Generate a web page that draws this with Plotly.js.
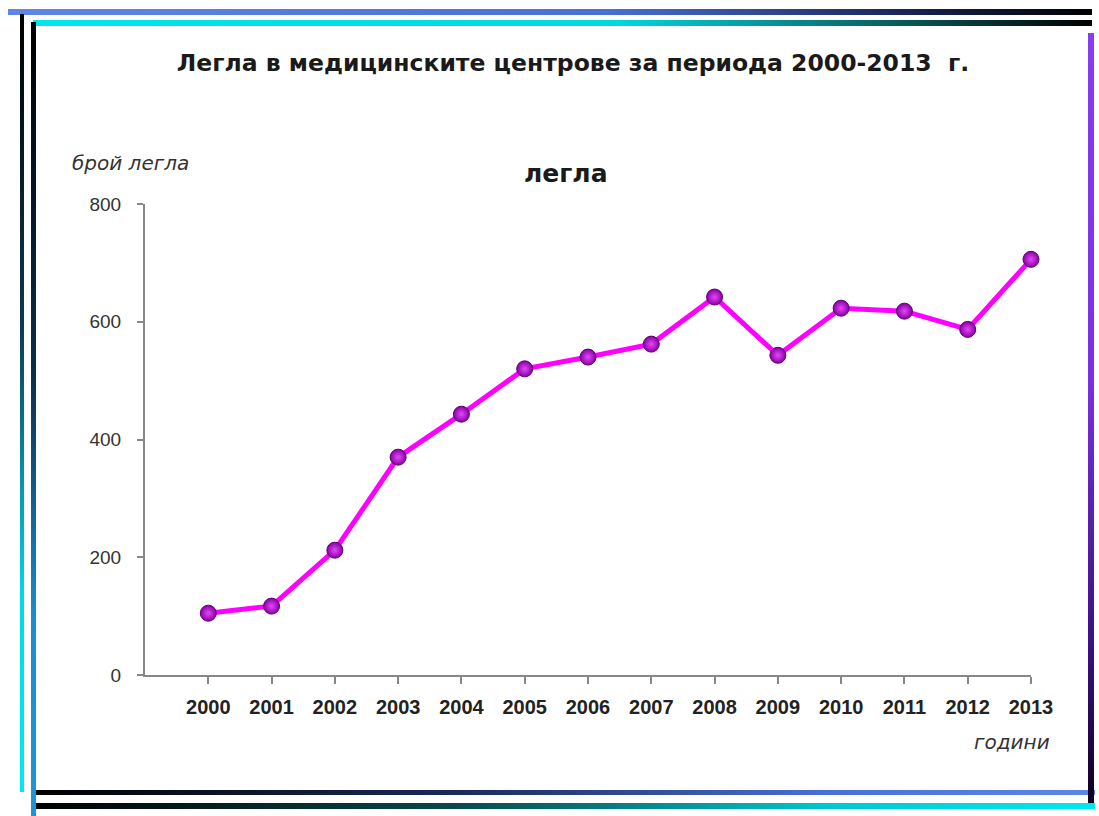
<!DOCTYPE html>
<html>
<head>
<meta charset="utf-8">
<script src="https://cdn.plot.ly/plotly-3.0.1.min.js"></script>
<style>
  html, body { margin: 0; padding: 0; background: #ffffff; }
  #wrap { position: relative; width: 1099px; height: 816px; overflow: hidden; }
  #chart { position: absolute; left: 0; top: 0; width: 1099px; height: 816px; }
  .bar { position: absolute; pointer-events: none; }
</style>
</head>
<body>
<div id="wrap">
  <div id="chart"></div>
  <div class="bar" style="left:8px; top:9px; width:1084px; height:6px; background:linear-gradient(to right,#5f86e6 0%,#4a6fd8 55%,#15204a 85%,#000 100%);"></div>
  <div class="bar" style="left:33px; top:20px; width:1059px; height:6px; background:linear-gradient(to right,#00e5ee 0%,#00d8e0 55%,#0a5a5a 82%,#000 100%);"></div>
  <div class="bar" style="left:20px; top:14px; width:4px; height:778px; background:linear-gradient(to bottom,#000 0%,#0a3a50 40%,#00d8f0 75%,#00e8f8 100%);"></div>
  <div class="bar" style="left:31px; top:22px; width:5px; height:794px; background:linear-gradient(to bottom,#000 0%,#0a3050 45%,#1a8ed0 75%,#1a96d8 100%);"></div>
  <div class="bar" style="left:36px; top:790px; width:1059px; height:5px; background:linear-gradient(to right,#000 0%,#1a2a5a 40%,#4a70d8 75%,#5f86e6 100%);"></div>
  <div class="bar" style="left:36px; top:803px; width:1059px; height:6px; background:linear-gradient(to right,#000 0%,#0a4a4a 40%,#00c8d0 75%,#00e8f0 100%);"></div>
  <div class="bar" style="left:1088px; top:33px; width:6px; height:770px; background:linear-gradient(to bottom,#8a3cf0 0%,#7a30e0 45%,#3a1080 80%,#100020 100%);"></div>
</div>
<script>
const years = ["2000","2001","2002","2003","2004","2005","2006","2007","2008","2009","2010","2011","2012","2013"];
const beds = [105, 117, 212, 370, 443, 520, 540, 562, 642, 543, 623, 618, 587, 706];
const yTicks = [0, 200, 400, 600, 800];

const chartTitle = "Легла в медицинските центрове за периода 2000-2013  г.";
const seriesName = "легла";
const yTitle = "брой легла";
const xTitle = "години";

const trace = {
  x: years,
  y: beds,
  type: "scatter",
  mode: "lines+markers",
  name: seriesName,
  line: { color: "#ff00ff", width: 5 },
  marker: {
    size: 16,
    color: "#8a00a8",
    line: { color: "#5a0070", width: 1 },
    gradient: { type: "radial", color: "#e448f4" }
  },
  cliponaxis: false,
  hoverinfo: "x+y"
};

const PW = 886, PH = 471;

const layout = {
  width: 1099,
  height: 816,
  paper_bgcolor: "rgba(0,0,0,0)",
  plot_bgcolor: "rgba(0,0,0,0)",
  showlegend: false,
  margin: { l: 145, r: 68, t: 204, b: 141, pad: 0 },
  font: { family: "Liberation Sans, Arial, sans-serif", color: "#222" },
  title: {
    text: chartTitle,
    font: { family: "DejaVu Sans, sans-serif", size: 23.5, color: "#1a1a1a", weight: "bold" },
    x: 573 / 1099, xanchor: "center", xref: "container",
    y: 1 - 63 / 816, yref: "container", yanchor: "middle"
  },
  xaxis: {
    type: "category",
    range: [-1, 13],
    showline: true, linecolor: "#888", linewidth: 2,
    showgrid: false, zeroline: false,
    ticks: "outside", ticklen: 7, tickcolor: "#888", tickwidth: 2,
    tickfont: { family: "Liberation Sans, Arial, sans-serif", size: 20, color: "#222", weight: "bold" },
    ticklabelstandoff: 6,
    fixedrange: true
  },
  yaxis: {
    range: [0, 800],
    tickvals: yTicks,
    ticktext: yTicks.map(String),
    showline: true, linecolor: "#888", linewidth: 2,
    showgrid: false, zeroline: false,
    ticks: "outside", ticklen: 6, tickcolor: "#888", tickwidth: 2,
    tickfont: { family: "Liberation Sans, Arial, sans-serif", size: 19, color: "#333" },
    ticklabelstandoff: 12,
    fixedrange: true
  },
  annotations: [
    {
      text: "<b>" + seriesName + "</b>",
      xref: "paper", yref: "paper", x: (566 - 145) / PW, y: 1 + (204 - 173) / PH,
      xanchor: "center", yanchor: "middle", showarrow: false,
      font: { family: "DejaVu Sans, sans-serif", size: 25, color: "#1a1a1a" }
    },
    {
      text: "<i>" + yTitle + "</i>",
      xref: "paper", yref: "paper", x: (70 - 145) / PW, y: 1 + (204 - 163) / PH,
      xanchor: "left", yanchor: "middle", showarrow: false,
      font: { family: "DejaVu Sans, sans-serif", size: 20, color: "#333" }
    },
    {
      text: "<i>" + xTitle + "</i>",
      xref: "paper", yref: "paper", x: (1052 - 145) / PW, y: -(742 - 675) / PH,
      xanchor: "right", yanchor: "middle", showarrow: false,
      font: { family: "DejaVu Sans, sans-serif", size: 20, color: "#333" }
    }
  ]
};

Plotly.newPlot("chart", [trace], layout, { displayModeBar: false, staticPlot: true });
</script>
</body>
</html>
